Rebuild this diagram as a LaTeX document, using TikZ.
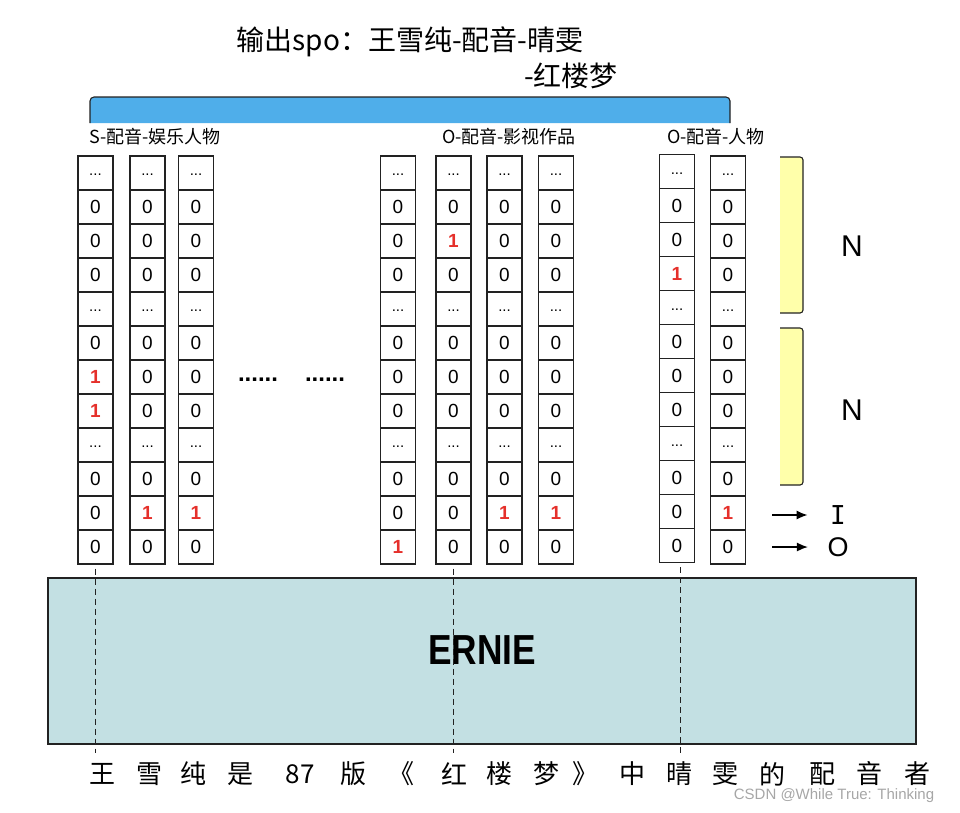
\documentclass[tikz,border=0pt]{standalone}
\usepackage{fontspec}
\setmainfont{Liberation Sans}
\newfontfamily\cjk{Noto Sans CJK SC}
\newfontfamily\monoI{DejaVu Sans Mono}
\usetikzlibrary{arrows.meta}

\definecolor{barblue}{HTML}{4FAEEA}
\definecolor{notey}{HTML}{FFFFAA}
\definecolor{erniebg}{HTML}{C3E0E3}
\definecolor{hitred}{HTML}{E5302B}
\definecolor{boxline}{HTML}{222222}

\newcommand{\cellv}[1]{\if d#1\raisebox{-5pt}{\fontsize{15}{15}\selectfont ...}\else\if 1#1\textcolor{hitred}{\bfseries 1}\else 0\fi\fi}

\tikzset{
  cell/.style={draw=boxline, line width=1.1pt, minimum width=35pt, minimum height=34pt, inner sep=0pt, font=\fontsize{19}{19}\selectfont},
  lbl/.style={font=\cjk\fontsize{18}{18}\selectfont},
  bigcjk/.style={font=\cjk\fontsize{28}{28}\selectfont},
  bracket/.style={draw=boxline, line width=1.1pt, fill=notey, rounded corners=3pt},
  dashline/.style={draw=boxline, line width=0.9pt, dash pattern=on 6pt off 4pt, shorten <=4pt, shorten >=-8pt},
  arr/.style={-{Latex[length=11pt,width=9pt]}, line width=1.6pt},
}

\begin{document}
\begin{tikzpicture}[x=1pt,y=-1pt]
\useasboundingbox (0,0) rectangle (960,812);

\node[bigcjk] (title) at (410,42) {输出spo：王雪纯-配音-晴雯};
\node[bigcjk] (title2) at (571,76) {-红楼梦};
\draw[draw=boxline, line width=1.1pt, fill=barblue, rounded corners=4pt] (90,123) -- (90,97) -- (730,97) -- (730,123);

\node[lbl] (lblS) at (155,137) {S-配音-娱乐人物};
\node[lbl] (lblO) at (509,137) {O-配音-影视作品};
\node[lbl] (lblP) at (716,137) {O-配音-人物};

\foreach \v [count=\r] in {d,0,0,0,d,0,1,1,d,0,0,0} \node[cell] (a\r) at (95.5,139+34*\r) {\cellv{\v}};
\foreach \v [count=\r] in {d,0,0,0,d,0,0,0,d,0,1,0} \node[cell] (b\r) at (147.5,139+34*\r) {\cellv{\v}};
\foreach \v [count=\r] in {d,0,0,0,d,0,0,0,d,0,1,0} \node[cell] (c\r) at (196,139+34*\r) {\cellv{\v}};
\foreach \v [count=\r] in {d,0,0,0,d,0,0,0,d,0,0,1} \node[cell] (d\r) at (398,139+34*\r) {\cellv{\v}};
\foreach \v [count=\r] in {d,0,1,0,d,0,0,0,d,0,0,0} \node[cell] (e\r) at (453.5,139+34*\r) {\cellv{\v}};
\foreach \v [count=\r] in {d,0,0,0,d,0,0,0,d,0,1,0} \node[cell] (f\r) at (504.5,139+34*\r) {\cellv{\v}};
\foreach \v [count=\r] in {d,0,0,0,d,0,0,0,d,0,1,0} \node[cell] (g\r) at (556,139+34*\r) {\cellv{\v}};
\foreach \v [count=\r] in {d,0,0,1,d,0,0,0,d,0,0,0} \node[cell] (h\r) at (677,137.5+34*\r) {\cellv{\v}};
\foreach \v [count=\r] in {d,0,0,0,d,0,0,0,d,0,1,0} \node[cell] (i\r) at (728,139+34*\r) {\cellv{\v}};

\node[font=\bfseries\fontsize{24}{24}\selectfont, anchor=base] (gap1) at (258,381) {......};
\node[font=\bfseries\fontsize{24}{24}\selectfont, anchor=base] (gap2) at (325,381) {......};

\draw[bracket] (780,157) -- (803,157) -- (803,313) -- (780,313);
\draw[bracket] (780,328) -- (803,328) -- (803,485) -- (780,485);
\node[font=\fontsize{30}{30}\selectfont] (n1) at (852,246) {N};
\node[font=\fontsize{30}{30}\selectfont] (n2) at (852,410) {N};

\coordinate (ai) at (772,515);
\coordinate (ao) at (772,547);
\node[font=\monoI\fontsize{26}{26}\selectfont] (ti) at (838,515) {I};
\node[font=\fontsize{27}{27}\selectfont] (to) at (838,547) {O};
\draw[arr, shorten >=19pt] (ai) -- (ti);
\draw[arr, shorten >=16pt] (ao) -- (to);

\node[draw=boxline, line width=1.3pt, fill=erniebg, minimum width=868pt, minimum height=166pt] (ernie) at (482,661) {};
\node[font=\bfseries\fontsize{42}{42}\selectfont] (ernietxt) at (482,650) {\scalebox{0.84}[1]{ERNIE}};

\draw[dashline] (a12.south) -- (a12.south |- ernie.south);
\draw[dashline] (e12.south) -- (e12.south |- ernie.south);
\draw[dashline] ([xshift=3pt]h12.south) -- ([xshift=3pt]h12.south |- ernie.south);

\foreach \w/\wx [count=\i] in {王/102,雪/149,纯/193,是/240,87/300,版/353,《/401,红/454,楼/499,梦/546,》/585,中/632,晴/679,雯/725,的/772,配/822,音/869,者/917}
  \node[font=\cjk\fontsize{26}{26}\selectfont] (w\i) at (\wx,774) {\w};

\node[font=\fontsize{15}{15}\selectfont, text=gray!70] (mark) at (834,796) {CSDN @While True: Thinking};
\end{tikzpicture}
\end{document}
